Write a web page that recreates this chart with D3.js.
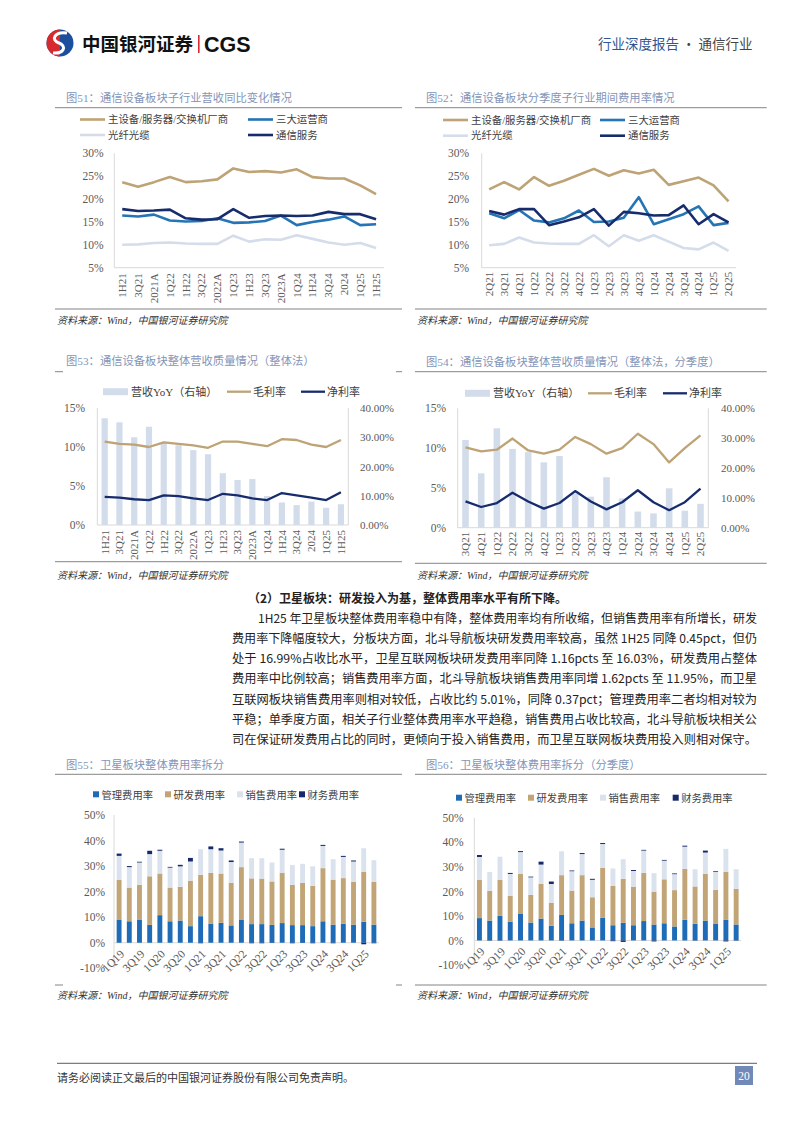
<!DOCTYPE html>
<html><head><meta charset="utf-8">
<script src="https://cdn.jsdelivr.net/npm/d3@7"></script>
<style>body{margin:0;background:#fff}svg{display:block}</style>
</head><body>
<svg id="page" width="794" height="1123"></svg>
<script>
// ---------------- DATA ----------------
const c51Cats = ["1H21","3Q21","2021A","1Q22","1H22","3Q22","2022A","1Q23","1H23","3Q23","2023A","1Q24","1H24","3Q24","2024","1Q25","1H25"];
const c51Equip = [23.7,22.7,23.7,24.8,23.7,23.9,24.3,26.7,25.9,26.1,25.8,26.5,24.8,24.5,24.5,23.0,21.1];
const c51Oper  = [16.4,16.2,16.6,15.3,15.1,15.2,15.8,14.8,14.9,15.2,16.4,14.3,15.0,15.5,16.2,14.3,14.5];
const c51Fiber = [10.0,10.1,10.4,10.5,10.3,10.2,10.2,12.0,10.7,11.2,11.1,12.1,11.3,10.5,10.0,10.4,9.3];
const c51Serv  = [17.8,17.4,17.5,17.7,15.8,15.5,15.6,17.8,15.9,16.3,16.4,16.3,16.4,17.2,16.7,16.7,15.6];

const c52Cats = ["2Q21","3Q21","4Q21","1Q22","2Q22","3Q22","4Q22","1Q23","2Q23","3Q23","4Q23","1Q24","2Q24","3Q24","4Q24","1Q25","2Q25"];
const c52Equip = [22.1,23.7,22.1,24.8,22.9,24.0,25.3,26.6,25.1,26.3,25.6,26.4,23.1,23.9,24.7,23.0,19.5];
const c52Oper  = [16.9,15.8,17.6,15.3,14.9,15.8,17.5,15.0,15.1,15.9,20.4,14.5,15.6,16.7,18.4,14.3,14.8];
const c52Fiber = [9.9,10.2,11.6,10.5,10.3,10.2,10.2,12.1,9.7,12.1,10.9,12.1,10.7,9.3,9.0,10.5,8.7];
const c52Serv  = [17.4,16.6,17.8,17.8,14.3,15.1,16.0,17.8,14.2,17.2,16.9,16.4,16.5,18.6,14.5,16.7,14.9];

const c53Cats = c51Cats;
const c53Rev   = [36.5,35.1,30.0,33.6,28.0,27.3,25.6,24.2,17.7,15.4,15.7,9.9,7.7,6.8,8.0,5.9,7.1];
const c53Gross = [10.7,10.4,10.3,10.0,10.6,10.4,10.2,9.9,10.7,10.7,10.4,10.1,11.0,10.9,10.3,10.0,10.9];
const c53Net   = [3.6,3.5,3.3,3.2,3.8,3.7,3.4,3.2,4.0,3.8,3.4,3.2,4.1,3.8,3.5,3.2,4.2];

const c54Cats = ["3Q21","4Q21","1Q22","2Q22","3Q22","4Q22","1Q23","2Q23","3Q23","4Q23","1Q24","2Q24","3Q24","4Q24","1Q25","2Q25"];
const c54Rev   = [29.4,18.2,33.3,26.4,25.3,21.9,24.0,11.5,10.4,16.9,9.8,5.4,4.8,13.2,5.7,8.0];
const c54Gross = [10.1,9.6,9.8,11.2,9.7,9.3,9.8,11.4,10.5,9.3,10.0,11.8,10.5,8.2,10.0,11.6];
const c54Net   = [3.3,2.6,3.1,4.4,3.3,2.4,3.1,4.6,3.3,2.3,3.2,4.7,3.2,2.2,3.2,4.9];

const qCats = ["1Q19","2Q19","3Q19","4Q19","1Q20","2Q20","3Q20","4Q20","1Q21","2Q21","3Q21","4Q21","1Q22","2Q22","3Q22","4Q22","1Q23","2Q23","3Q23","4Q23","1Q24","2Q24","3Q24","4Q24","1Q25","2Q25"];
const c55Mgmt  = [9.1,8.4,9.1,7.0,10.8,8.4,8.7,6.5,10.4,7.5,7.8,6.8,9.1,7.3,7.3,7.0,7.7,6.9,6.9,6.5,8.4,7.1,7.5,7.1,8.2,7.1];
const c55RD    = [15.6,13.2,13.6,19.0,16.3,13.2,13.2,17.8,16.2,19.9,19.3,16.7,20.5,17.9,17.8,17.0,19.7,15.7,16.5,15.8,20.8,17.6,17.8,16.7,19.5,16.7];
const c55Sales = [9.3,8.0,8.7,8.7,8.9,7.8,8.0,7.5,10.0,9.2,9.0,8.1,9.6,7.9,8.0,7.4,9.0,7.8,7.5,7.6,8.7,8.0,8.3,8.0,9.3,8.5];
const c55Fin   = [0.9,0.4,0.3,1.3,0.4,0.3,0.6,1.4,-0.2,1.1,0.9,0.6,0.4,-0.2,-0.2,-0.1,0.4,-0.2,-0.1,-0.2,0.4,-0.2,0.4,0.4,-0.6,-0.2];

const c56Mgmt  = [9.1,8.1,10.0,7.7,11.0,7.3,8.9,6.0,10.4,7.0,8.1,5.3,9.3,6.2,7.2,6.2,7.9,6.5,7.0,5.7,8.4,6.8,8.1,6.9,8.5,6.5];
const c56RD    = [15.6,12.1,14.7,10.5,16.1,11.3,14.1,9.4,16.2,13.3,18.5,12.3,20.3,16.0,17.9,15.7,19.6,13.4,17.9,14.8,20.7,15.2,19.1,13.7,19.5,14.5];
const c56Sales = [9.3,7.7,9.4,8.9,8.9,7.1,7.9,7.6,9.7,7.9,8.6,7.1,9.7,7.1,8.0,6.4,9.1,7.5,7.6,6.5,9.1,7.0,8.6,7.4,9.3,8.0];
const c56Fin   = [0.8,-0.1,-0.1,0.4,0.4,0.3,1.2,1.0,-0.1,0.3,0.4,0.4,0.4,-0.3,-0.6,0.4,0.3,-0.4,0.3,0.3,0.4,-0.1,0.8,0.3,-0.4,-0.1];

const lineNames = ["主设备/服务器/交换机厂商","三大运营商","光纤光缆","通信服务"];
const comboNames = ["营收YoY（右轴）","毛利率","净利率"];
const stackNames = ["管理费用率","研发费用率","销售费用率","财务费用率"];
const pctTicks = [5,10,15,20,25,30];
const leftTicks = [0,5,10,15];
const rightTicks = [0,10,20,30,40];
const stackTicks = [-10,0,10,20,30,40,50];

// ---------------- STYLE ----------------
const GOLD="#bda375", BLUE="#2474b6", LIGHT="#d5ddea", NAVY="#172c6c", BARC="#d2dcea";
const MGMT="#1e6cb8", RD="#c2a577", SALES="#dae2ee", FIN="#142a6a";
const FMIX="'Liberation Serif','Noto Sans CJK SC',serif";
const FCJK="'Noto Sans CJK SC',sans-serif";
const TITLE_C="#8395b8", AXC="#595959", AXL="#d9d9d9", TXT="#333";

const svg=d3.select("#page");

// ---------------- HEADER ----------------
svg.append("circle").attr("cx",60).attr("cy",43).attr("r",13.5).attr("fill","#1d4e9e");
svg.append("path").attr("d","M60,29.5 A13.5,13.5 0 0 0 60,56.5 L60,44 Z").attr("fill","#d62a30");
svg.append("path").attr("d","M67,33 C55,31 50,40 59,43 C67,46 64,54 53,53").attr("fill","none").attr("stroke","#fff").attr("stroke-width",3);
svg.append("text").attr("x",82).attr("y",51).attr("font-family",FCJK).attr("font-weight","bold").attr("font-size",18.5).attr("fill","#111").text("中国银河证券");
svg.append("rect").attr("x",198).attr("y",35).attr("width",1.6).attr("height",18).attr("fill","#d62a30");
svg.append("text").attr("x",204).attr("y",51.5).attr("font-family","'Liberation Sans',Arial,sans-serif").attr("font-weight","bold").attr("font-size",21.5).attr("fill","#111").text("CGS");
const hdr=svg.append("text").attr("x",598).attr("y",49).attr("font-family",FCJK).attr("font-size",13.5);
hdr.append("tspan").attr("fill","#34548f").text("行业深度报告");
hdr.append("tspan").attr("fill","#444").text(" · 通信行业");

// ---------------- FRAMES ----------------
function frame(o){
  svg.append("text").attr("x",o.x0+11).attr("y",o.titleY).attr("dominant-baseline","central")
    .attr("font-family",FMIX).attr("font-size",11.3).attr("fill",TITLE_C).text(o.title);
  const rule=(y,full)=>{
    if(full) svg.append("line").attr("x1",o.x0).attr("x2",o.x1).attr("y1",y).attr("y2",y).attr("stroke","#666").attr("stroke-width",0.8);
    else [[o.x0,o.x0+8],[o.x1-6,o.x1]].forEach(s=>svg.append("line").attr("x1",s[0]).attr("x2",s[1]).attr("y1",y).attr("y2",y).attr("stroke","#666").attr("stroke-width",0.8));
  };
  rule(o.ruleY,o.fullTop);
  rule(o.botY,o.fullBottom);
  svg.append("text").attr("x",o.x0+2).attr("y",o.srcY).attr("dominant-baseline","central")
    .attr("font-family",FMIX).attr("font-style","italic").attr("font-size",10).attr("fill",TXT).text("资料来源：Wind，中国银河证券研究院");
}

function styleAxis(g,size){
  g.attr("font-family",FMIX).attr("font-size",size||11);
  g.select(".domain").remove();
  g.selectAll("text").attr("fill",AXC);
}

// ---------------- LINE CHART ----------------
function lineChart(o){
  const g=svg.append("g");
  const x=d3.scaleBand().domain(o.cats).range(o.xr);
  const y=d3.scaleLinear().domain([5,30]).range(o.yr);
  g.append("line").attr("x1",o.xr[0]).attr("x2",o.xr[0]).attr("y1",o.yr[0]).attr("y2",o.yr[1]).attr("stroke",AXL);
  g.append("line").attr("x1",o.xr[0]).attr("x2",o.xr[1]).attr("y1",o.yr[0]).attr("y2",o.yr[0]).attr("stroke",AXL);
  const ya=g.append("g").attr("transform",`translate(${o.xr[0]},0)`)
    .call(d3.axisLeft(y).tickValues(pctTicks).tickFormat(d=>d+"%").tickSize(0).tickPadding(o.xr[0]-o.ylx));
  styleAxis(ya,11.5);
  const xa=g.append("g").attr("transform",`translate(0,${o.yr[0]})`).call(d3.axisBottom(x).tickSize(0));
  styleAxis(xa,11);
  xa.selectAll("text").attr("transform","rotate(-90)").attr("text-anchor","end").attr("x",-o.xlo).attr("y",0).attr("dy","0.35em");
  const line=d3.line().x(d=>x(d.c)+x.bandwidth()/2).y(d=>y(d.v));
  o.series.forEach(s=>{
    g.append("path").datum(o.cats.map((c,i)=>({c,v:s.values[i]})))
      .attr("d",line).attr("fill","none").attr("stroke",s.color).attr("stroke-width",2.6).attr("stroke-linejoin","round");
  });
  o.series.forEach((s,i)=>{
    const lx=o.legX[i%2], ly=o.legY[Math.floor(i/2)];
    g.append("line").attr("x1",lx).attr("x2",lx+25).attr("y1",ly).attr("y2",ly).attr("stroke",s.color).attr("stroke-width",2.6);
    g.append("text").attr("x",lx+28).attr("y",ly).attr("dominant-baseline","central").attr("font-family",FMIX).attr("font-size",10.4).attr("fill","#404040").text(s.name);
  });
}

// ---------------- COMBO CHART ----------------
function comboChart(o){
  const g=svg.append("g");
  const x=d3.scaleBand().domain(o.cats).range(o.xr);
  const yl=d3.scaleLinear().domain([0,15]).range(o.yr);
  const yr=d3.scaleLinear().domain([0,40]).range(o.yr);
  const bw=x.bandwidth()*0.42;
  g.append("line").attr("x1",o.xr[0]).attr("x2",o.xr[0]).attr("y1",o.yr[0]).attr("y2",o.yr[1]).attr("stroke",AXL);
  g.append("line").attr("x1",o.xr[1]).attr("x2",o.xr[1]).attr("y1",o.yr[0]).attr("y2",o.yr[1]).attr("stroke",AXL);
  g.append("line").attr("x1",o.xr[0]).attr("x2",o.xr[1]).attr("y1",o.yr[0]).attr("y2",o.yr[0]).attr("stroke",AXL);
  g.selectAll("rect.bar").data(o.cats).join("rect").attr("class","bar")
    .attr("x",c=>x(c)+(x.bandwidth()-bw)/2).attr("width",bw)
    .attr("y",(c,i)=>yr(o.rev[i])).attr("height",(c,i)=>yr(0)-yr(o.rev[i])).attr("fill",BARC);
  const la=g.append("g").attr("transform",`translate(${o.xr[0]},0)`)
    .call(d3.axisLeft(yl).tickValues(leftTicks).tickFormat(d=>d+"%").tickSize(0).tickPadding(o.xr[0]-o.ylx));
  styleAxis(la,11.5);
  const ra=g.append("g").attr("transform",`translate(${o.xr[1]},0)`)
    .call(d3.axisRight(yr).tickValues(rightTicks).tickFormat(d=>d3.format(".2f")(d)+"%").tickSize(0).tickPadding(o.yrx-o.xr[1]));
  styleAxis(ra,11);
  const xa=g.append("g").attr("transform",`translate(0,${o.yr[0]})`).call(d3.axisBottom(x).tickSize(0));
  styleAxis(xa,11);
  xa.selectAll("text").attr("transform","rotate(-90)").attr("text-anchor","end").attr("x",-o.xlo).attr("y",0).attr("dy","0.35em");
  const mk=vals=>d3.line().x(d=>x(d.c)+x.bandwidth()/2).y(d=>yl(d.v))(o.cats.map((c,i)=>({c,v:vals[i]})));
  g.append("path").attr("d",mk(o.gross)).attr("fill","none").attr("stroke",GOLD).attr("stroke-width",2.3).attr("stroke-linejoin","round");
  g.append("path").attr("d",mk(o.net)).attr("fill","none").attr("stroke",NAVY).attr("stroke-width",2.3).attr("stroke-linejoin","round");
  const ly=o.legY;
  g.append("rect").attr("x",o.legX[0]).attr("y",ly-3.5).attr("width",25).attr("height",7).attr("fill",BARC);
  g.append("line").attr("x1",o.legX[1]).attr("x2",o.legX[1]+24).attr("y1",ly).attr("y2",ly).attr("stroke",GOLD).attr("stroke-width",2.3);
  g.append("line").attr("x1",o.legX[2]).attr("x2",o.legX[2]+24).attr("y1",ly).attr("y2",ly).attr("stroke",NAVY).attr("stroke-width",2.3);
  comboNames.forEach((n,i)=>g.append("text").attr("x",o.legX[i]+(i==0?28:26)).attr("y",ly).attr("dominant-baseline","central")
    .attr("font-family",FMIX).attr("font-size",11).attr("fill","#404040").text(n));
}

// ---------------- STACKED CHART ----------------
function stackChart(o){
  const g=svg.append("g");
  const rows=qCats.map((c,i)=>({cat:c,mgmt:o.mgmt[i],rd:o.rd[i],sales:o.sales[i],fin:o.fin[i]}));
  const keys=["mgmt","rd","sales","fin"], cols=[MGMT,RD,SALES,FIN];
  const st=d3.stack().keys(keys).offset(d3.stackOffsetDiverging)(rows);
  const x=d3.scaleBand().domain(qCats).range(o.xr);
  const y=d3.scaleLinear().domain([-10,50]).range(o.yr);
  const bw=x.bandwidth()*0.48;
  g.append("line").attr("x1",o.xr[0]).attr("x2",o.xr[0]).attr("y1",o.yr[0]).attr("y2",o.yr[1]).attr("stroke",AXL);
  g.append("line").attr("x1",o.xr[0]).attr("x2",o.xr[1]).attr("y1",y(0)).attr("y2",y(0)).attr("stroke",AXL);
  st.forEach((layer,k)=>{
    g.append("g").attr("fill",cols[k]).selectAll("rect").data(layer).join("rect")
      .attr("x",d=>x(d.data.cat)+(x.bandwidth()-bw)/2).attr("width",bw)
      .attr("y",d=>y(Math.max(d[0],d[1]))).attr("height",d=>Math.abs(y(d[0])-y(d[1])));
  });
  const ya=g.append("g").attr("transform",`translate(${o.xr[0]},0)`)
    .call(d3.axisLeft(y).tickValues(stackTicks).tickFormat(d=>d+"%").tickSize(0).tickPadding(o.xr[0]-o.ylx));
  styleAxis(ya,11.5);
  const xa=g.append("g").attr("transform",`translate(0,${y(0)})`)
    .call(d3.axisBottom(x).tickValues(qCats.filter((d,i)=>i%2==0)).tickSize(0));
  styleAxis(xa,11.5);
  xa.selectAll("text").attr("text-anchor","end").attr("y",0).attr("dy","0.35em")
    .attr("transform","translate(3,9) rotate(-45)");
  stackNames.forEach((n,i)=>{
    g.append("rect").attr("x",o.legX[i]).attr("y",o.legY-3).attr("width",6).attr("height",6).attr("fill",cols[i]);
    g.append("text").attr("x",o.legX[i]+8.5).attr("y",o.legY).attr("dominant-baseline","central")
      .attr("font-family",FCJK).attr("font-size",10.3).attr("fill","#404040").text(n);
  });
}

// ---------------- BUILD ----------------
frame({x0:55,x1:402,title:"图51：通信设备板块子行业营收同比变化情况",titleY:97.7,ruleY:107.7,fullTop:true,botY:309,fullBottom:true,srcY:320.5});
lineChart({cats:c51Cats,xr:[114.3,384],yr:[267.7,153.3],ylx:103.5,xlo:5.5,legX:[80,248],legY:[119.5,135],
  series:[{name:lineNames[0],values:c51Equip,color:GOLD},{name:lineNames[1],values:c51Oper,color:BLUE},
          {name:lineNames[2],values:c51Fiber,color:LIGHT},{name:lineNames[3],values:c51Serv,color:NAVY}]});

frame({x0:415,x1:766.7,title:"图52：通信设备板块分季度子行业期间费用率情况",titleY:97.7,ruleY:107.7,fullTop:true,botY:309,fullBottom:true,srcY:320.5});
lineChart({cats:c52Cats,xr:[481.7,736],yr:[267.7,153.3],ylx:469,xlo:4,legX:[443,600],legY:[120,135.7],
  series:[{name:lineNames[0],values:c52Equip,color:GOLD},{name:lineNames[1],values:c52Oper,color:BLUE},
          {name:lineNames[2],values:c52Fiber,color:LIGHT},{name:lineNames[3],values:c52Serv,color:NAVY}]});

frame({x0:55,x1:402,title:"图53：通信设备板块整体营收质量情况（整体法）",titleY:361,ruleY:371.7,fullTop:false,botY:561.7,fullBottom:true,srcY:575});
comboChart({cats:c53Cats,rev:c53Rev,gross:c53Gross,net:c53Net,xr:[97.3,348.3],yr:[525,408],ylx:85,yrx:360,xlo:5,
  legX:[103,227,301],legY:391.7});

frame({x0:415,x1:766.7,title:"图54：通信设备板块整体营收质量情况（整体法，分季度）",titleY:361.7,ruleY:371.7,fullTop:true,botY:563.3,fullBottom:true,srcY:575});
comboChart({cats:c54Cats,rev:c54Rev,gross:c54Gross,net:c54Net,xr:[457.7,708.3],yr:[527.7,408.3],ylx:446,yrx:721,xlo:4,
  legX:[465,588,663],legY:393.3});

// paragraph
const para=svg.append("g").attr("font-family",FCJK).attr("fill","#222");
para.append("text").attr("x",248).attr("y",597).attr("dominant-baseline","central").attr("font-weight","bold").attr("font-size",12).text("（2）卫星板块：研发投入为基，整体费用率水平有所下降。");
const paraLines=[
 "1H25 年卫星板块整体费用率稳中有降，整体费用率均有所收缩，但销售费用率有所增长，研发",
 "费用率下降幅度较大，分板块方面，北斗导航板块研发费用率较高，虽然 1H25 同降 0.45pct，但仍",
 "处于 16.99%占收比水平，卫星互联网板块研发费用率同降 1.16pcts 至 16.03%，研发费用占整体",
 "费用率中比例较高；销售费用率方面，北斗导航板块销售费用率同增 1.62pcts 至 11.95%，而卫星",
 "互联网板块销售费用率则相对较低，占收比约 5.01%，同降 0.37pct；管理费用率二者均相对较为",
 "平稳；单季度方面，相关子行业整体费用率水平趋稳，销售费用占收比较高，北斗导航板块相关公",
 "司在保证研发费用占比的同时，更倾向于投入销售费用，而卫星互联网板块费用投入则相对保守。"];
paraLines.forEach((t,i)=>{
  const x0=i==0?258:232;
  para.append("text").attr("x",x0).attr("y",617+i*20.3).attr("dominant-baseline","central").attr("font-size",12)
    .attr("textLength",757-x0).attr("lengthAdjust","spacingAndGlyphs").text(t);
});

frame({x0:55,x1:402,title:"图55：卫星板块整体费用率拆分",titleY:765,ruleY:774.3,fullTop:true,botY:985,fullBottom:false,srcY:995.5});
stackChart({mgmt:c55Mgmt,rd:c55RD,sales:c55Sales,fin:c55Fin,xr:[114,379],yr:[968.3,815],ylx:105,legX:[93,165,237,299],legY:794.3});

frame({x0:415,x1:766.7,title:"图56：卫星板块整体费用率拆分（分季度）",titleY:765,ruleY:774.3,fullTop:true,botY:985,fullBottom:true,srcY:995.5});
stackChart({mgmt:c56Mgmt,rd:c56RD,sales:c56Sales,fin:c56Fin,xr:[474.3,741.3],yr:[965,817.7],ylx:463.5,legX:[456,528,600,672.7],legY:797.7});

// footer
svg.append("line").attr("x1",57).attr("x2",757).attr("y1",1063.3).attr("y2",1063.3).attr("stroke","#333").attr("stroke-width",0.8);
svg.append("text").attr("x",57).attr("y",1077).attr("dominant-baseline","central").attr("font-family",FCJK).attr("font-size",11).attr("fill","#333").text("请务必阅读正文最后的中国银河证券股份有限公司免责声明。");
svg.append("rect").attr("x",735).attr("y",1066).attr("width",18).attr("height",19).attr("fill","#7089b8");
svg.append("text").attr("x",744).attr("y",1076).attr("text-anchor","middle").attr("dominant-baseline","central").attr("font-family",FMIX).attr("font-size",11.5).attr("fill","#fff").text("20");
</script>
</body></html>
